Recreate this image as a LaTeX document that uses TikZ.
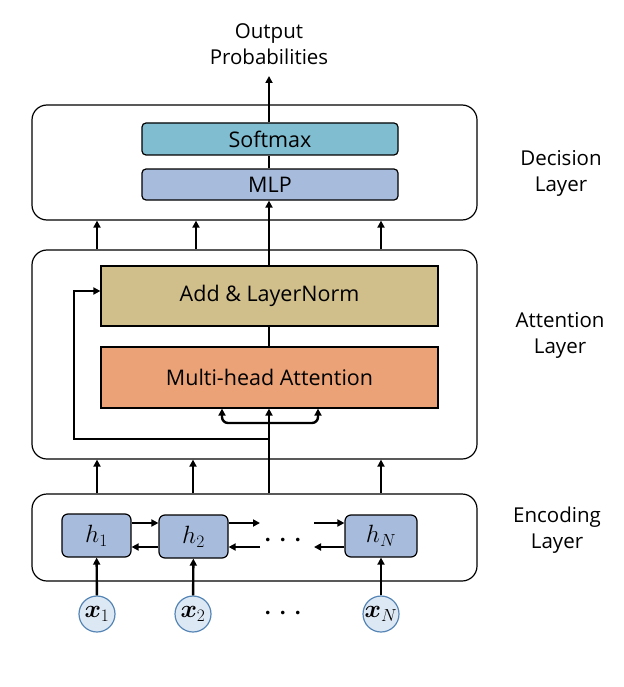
\RequirePackage{fix-cm}
\documentclass[tikz,border=0pt]{standalone}
\usepackage{amsmath,bm}
\usepackage{fontspec}
\setmainfont{Open Sans}
\usetikzlibrary{arrows.meta,calc}
\definecolor{cSoft}{HTML}{80BDD0}
\definecolor{cMLP}{HTML}{A7BCDD}
\definecolor{cAdd}{HTML}{D0BE8B}
\definecolor{cMHA}{HTML}{EBA277}
\definecolor{cCirF}{HTML}{DDE8F5}
\definecolor{cCirD}{HTML}{5585B5}
\begin{document}
\begin{tikzpicture}[x=1pt,y=-1pt,
  every node/.style={font=\fontsize{20.5}{26}\selectfont, inner sep=0pt},
  mathfont/.style={font=\fontsize{25}{28}\selectfont},
  layerbox/.style={draw, line width=1.2pt, rounded corners=15pt},
  blockbox/.style={draw, line width=1.2pt, font=\fontsize{21.5}{26}\selectfont},
  hbox/.style={draw, line width=1.2pt, fill=cMLP, rounded corners=6pt, minimum width=69pt, minimum height=43pt, mathfont},
  xcirc/.style={circle, draw=cCirD, fill=cCirF, line width=1.2pt, minimum size=36pt, mathfont},
  arr/.style={line width=2.4pt, -{Triangle[length=7pt,width=7pt]}},
  ln/.style={line width=2.4pt},
  lab/.style={align=center}
]
\useasboundingbox (0,0) rectangle (623,687);

% layers
\node[layerbox, minimum width=445pt, minimum height=115pt] (dec) at (254.5,162.5) {};
\node[layerbox, minimum width=445pt, minimum height=209pt] (att) at (254.5,354.5) {};
\node[layerbox, minimum width=445pt, minimum height=87pt] (enc) at (254.5,537.5) {};

% decision blocks
\node[blockbox, fill=cSoft, rounded corners=4pt, minimum width=256pt, minimum height=32pt] (soft) at (270,139) {Softmax};
\node[blockbox, fill=cMLP, rounded corners=4pt, minimum width=256pt, minimum height=31pt] (mlp) at (270,184.5) {MLP};

% attention blocks
\node[blockbox, fill=cAdd, minimum width=337pt, minimum height=60pt] (add) at (269.5,296) {Add \& LayerNorm};
\node[blockbox, fill=cMHA, minimum width=337pt, minimum height=61pt] (mha) at (269.5,377.5) {Multi-head Attention};

% encoding
\node[hbox] (h1) at (96.5,535.5) {$h_1$};
\node[hbox] (h2) at (193.5,536.5) {$h_2$};
\node[hbox, minimum width=72pt, minimum height=42pt] (hN) at (381,536) {$h_N$};
\node[font=\fontsize{34}{34}\selectfont] (dots) at (286,541) {$\cdots$};
\node[font=\fontsize{34}{34}\selectfont] (dots2) at (286,614) {$\cdots$};

\node[xcirc] (x1) at (97,614) {$\bm{x}_1$};
\node[xcirc] (x2) at (193,614) {$\bm{x}_2$};
\node[xcirc] (xN) at (381,614) {$\bm{x}_N$};

% labels
\node[lab] (out) at (269,44) {Output\\Probabilities};
\node[lab] (ldec) at (561,173) {Decision\\Layer};
\node[lab] (latt) at (560,335) {Attention\\Layer};
\node[lab] (lenc) at (557,530) {Encoding\\Layer};

% coordinates
\coordinate (c1) at (97,0);
\coordinate (c2) at (196,0);
\coordinate (c2b) at (193,0);
\coordinate (c3) at (381,0);
\coordinate (cm) at (269,0);
\coordinate (otip) at (269,76);
\coordinate (l1) at (260,523);
\coordinate (l2) at (260,547);
\coordinate (r1) at (314,523);
\coordinate (r2) at (314,547);
\coordinate (split) at (269,439);
\coordinate (fork) at (269,423);
\coordinate (bl) at (222,0);
\coordinate (br) at (318,0);
\coordinate (resx) at (74,0);

% x -> h
\draw[arr] (x1) -- (h1);
\draw[arr] (x2) -- (h2);
\draw[arr] (xN) -- (hN);

% h chain
\draw[arr] (h1.east |- l1) -- (h2.west |- l1);
\draw[arr] (h2.west |- l2) -- (h1.east |- l2);
\draw[arr] (h2.east |- l1) -- (l1);
\draw[arr] (l2) -- (h2.east |- l2);
\draw[arr] (r1) -- (hN.west |- r1);
\draw[arr] (hN.west |- r2) -- (r2);

% encoding -> attention
\draw[arr] (c1 |- enc.north) -- (c1 |- att.south);
\draw[arr] (c2b |- enc.north) -- (c2b |- att.south);
\draw[arr] (c3 |- enc.north) -- (c3 |- att.south);
\draw[arr] (cm |- enc.north) -- (cm |- mha.south);

% branches into MHA
\draw[arr, rounded corners=6pt] (fork) -| (bl |- mha.south);
\draw[arr, rounded corners=6pt] (fork) -| (br |- mha.south);

% residual
\draw[arr] (split) -| ($(resx |- add.west)+(0,-5)$) -- ($(add.west)+(0,-5)$);

% mha -> add
\draw[ln] (cm |- mha.north) -- (cm |- add.south);

% attention -> decision
\draw[arr] (c1 |- att.north) -- (c1 |- dec.south);
\draw[arr] (c2 |- att.north) -- (c2 |- dec.south);
\draw[arr] (c3 |- att.north) -- (c3 |- dec.south);
\draw[arr] (cm |- add.north) -- (cm |- mlp.south);

% mlp -> softmax -> out
\draw[ln] (cm |- mlp.north) -- (cm |- soft.south);
\draw[arr] (cm |- soft.north) -- (otip);
\end{tikzpicture}
\end{document}
